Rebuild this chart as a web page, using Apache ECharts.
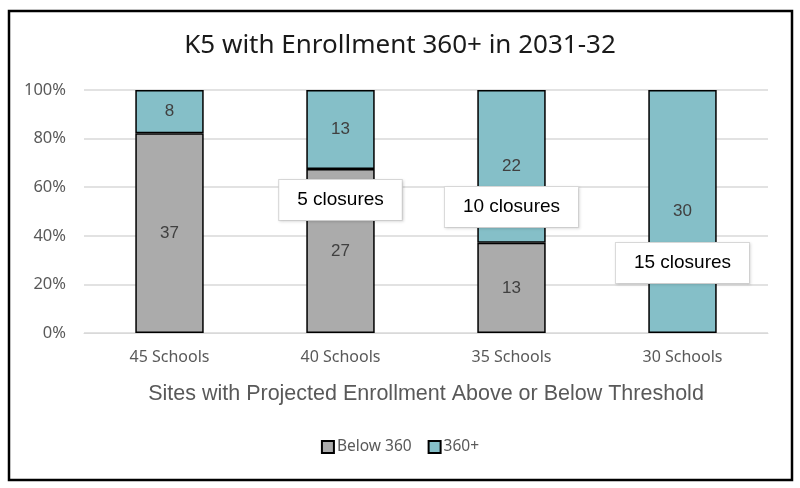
<!DOCTYPE html>
<html>
<head>
<meta charset="utf-8">
<script src="https://cdn.jsdelivr.net/npm/echarts@6/dist/echarts.min.js"></script>
<style>
  html, body { margin: 0; padding: 0; background: #fff; }
  #chart { width: 800px; height: 488px; }
</style>
</head>
<body>
<div id="chart"></div>
<script>
const categories = ['45 Schools', '40 Schools', '35 Schools', '30 Schools'];
const below360 = [37, 27, 13, 0];
const above360 = [8, 13, 22, 30];
const yTicks = [0, 20, 40, 60, 80, 100];

// closure notes: [category index, height in %, text]
const closureNotes = [
  [1, 54.7, '5 closures'],
  [2, 51.9, '10 closures'],
  [3, 28.8, '15 closures']
];

const totals = categories.map((c, i) => below360[i] + above360[i]);
const toPct = (arr) => arr.map((v, i) => {
  const item = { value: v / totals[i] * 100, raw: v };
  if (!v) item.itemStyle = { borderWidth: 0 };
  return item;
});

const segLabel = {
  show: true,
  fontFamily: 'Liberation Sans, Arial, sans-serif',
  fontSize: 17,
  color: '#404040',
  formatter: (p) => (p.data.raw ? String(p.data.raw) : '')
};

const chart = echarts.init(document.getElementById('chart'));
chart.setOption({
  animation: false,
  title: {
    text: 'K5 with Enrollment 360+ in 2031-32',
    left: 'center',
    top: 28,
    textStyle: { fontFamily: 'Noto Sans, sans-serif', fontSize: 26, fontWeight: 'normal', color: '#1a1a1a' }
  },
  legend: {
    bottom: 28,
    left: 'center',
    itemWidth: 12,
    itemHeight: 12,
    itemGap: 16,
    icon: 'rect',
    textStyle: { fontFamily: 'Noto Sans, sans-serif', fontSize: 15.5, color: '#595959', padding: [0, 0, 0, -2] },
    data: ['Below 360', '360+']
  },
  grid: { left: 84, right: 32, top: 90, bottom: 155 },
  xAxis: {
    type: 'category',
    data: categories,
    name: 'Sites with Projected Enrollment Above or Below Threshold',
    nameLocation: 'middle',
    nameGap: 50,
    nameTextStyle: { fontFamily: 'Liberation Sans, Arial, sans-serif', fontSize: 21.5, color: '#595959' },
    axisLine: { lineStyle: { color: '#d9d9d9' } },
    axisTick: { show: false },
    axisLabel: { margin: 16, fontFamily: 'Noto Sans, sans-serif', fontSize: 16, color: '#595959' }
  },
  yAxis: {
    type: 'value',
    min: yTicks[0],
    max: yTicks[yTicks.length - 1],
    interval: yTicks[1] - yTicks[0],
    axisLine: { show: false },
    axisTick: { show: false },
    axisLabel: { margin: 18, formatter: '{value}%', fontFamily: 'Noto Sans, sans-serif', fontSize: 16.5, color: '#595959' },
    splitLine: { lineStyle: { color: '#d9d9d9', width: 1.5 } }
  },
  series: [
    {
      name: 'Below 360',
      type: 'bar',
      stack: 'total',
      barWidth: '40%',
      data: toPct(below360),
      itemStyle: { color: '#ababab', borderColor: '#000', borderWidth: 1.5 },
      label: segLabel
    },
    {
      name: '360+',
      type: 'bar',
      stack: 'total',
      barWidth: '40%',
      data: toPct(above360),
      itemStyle: { color: '#85bfc8', borderColor: '#000', borderWidth: 1.5 },
      label: segLabel
    },
    {
      name: 'notes',
      type: 'scatter',
      symbolSize: 0,
      silent: true,
      z: 10,
      itemStyle: { opacity: 1 },
      data: closureNotes.map((n) => ({ value: [n[0], n[1]], text: n[2] })),
      label: {
        show: true,
        position: 'inside',
        formatter: (p) => p.data.text,
        fontFamily: 'Liberation Sans, Arial, sans-serif',
        fontSize: 19,
        color: '#000',
        backgroundColor: '#fff',
        borderColor: '#d9d9d9',
        borderWidth: 1,
        padding: [11, 18, 10, 18],
        shadowColor: 'rgba(0,0,0,0.12)',
        shadowBlur: 3,
        shadowOffsetX: 1,
        shadowOffsetY: 1
      }
    }
  ],
  graphic: [
    {
      type: 'rect',
      silent: true,
      shape: { x: 9, y: 11, width: 783, height: 469 },
      style: { fill: 'none', stroke: '#000', lineWidth: 2.5 }
    }
  ]
});
</script>
</body>
</html>
